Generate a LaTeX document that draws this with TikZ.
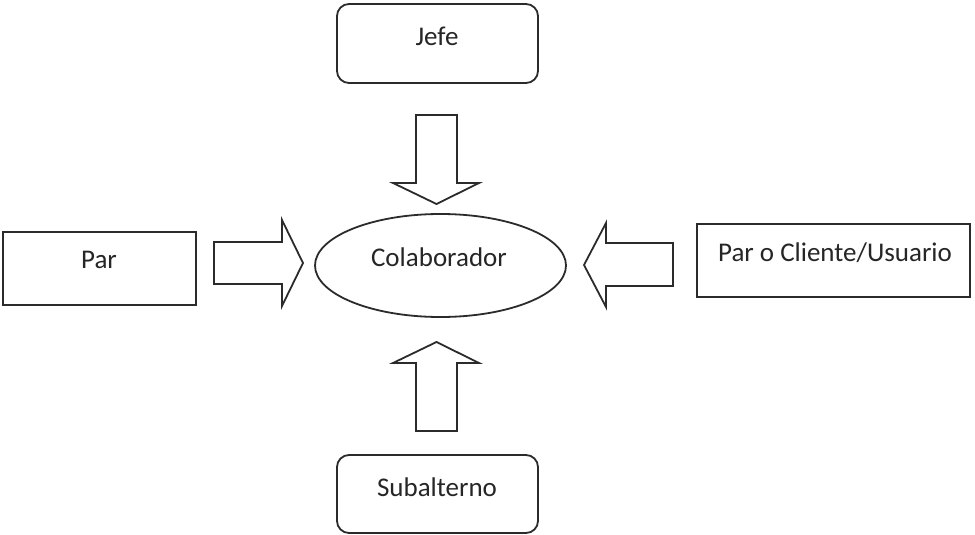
\documentclass[tikz,border=0pt]{standalone}
\usepackage{fontspec}
\setmainfont{Carlito}
\usetikzlibrary{shapes.geometric}
\definecolor{ln}{HTML}{2B2B2B}
\definecolor{tx}{HTML}{262626}
\begin{document}
\begin{tikzpicture}[x=1pt,y=-1pt,
  box/.style={draw=ln,line width=1.8pt,fill=white,inner sep=0pt},
  rbox/.style={box,rounded corners=12pt},
  oval/.style={draw=ln,line width=1.8pt,ellipse,inner sep=0pt,minimum width=251pt,minimum height=103pt},
  txt/.style={text=tx,inner sep=0pt,font=\fontsize{27}{32}\selectfont},
  blockarrow/.style={draw=ln,line width=1.8pt,fill=white,line join=miter}]
\useasboundingbox (0,0) rectangle (975,535);
% boxes
\node[rbox,minimum width=201pt,minimum height=79pt] (jefe) at (437.5,43.5) {};
\node[txt] (jefeT) at (437,36) {Jefe};
\node[rbox,minimum width=201pt,minimum height=78pt] (sub) at (437.5,494) {};
\node[txt] (subT) at (437,487) {Subalterno};
\node[box,minimum width=193pt,minimum height=73pt] (par) at (99.5,268.5) {};
\node[txt] (parT) at (99,260) {Par};
\node[box,minimum width=273pt,minimum height=73pt] (cli) at (833.5,260.5) {};
\node[txt] (cliT) at (835,253) {Par o Cliente/Usuario};
\node[oval] (col) at (440.5,265.5) {};
\node[txt] (colT) at (439,257) {Colaborador};
% block arrows
\draw[blockarrow] (416,115) -- (457,115) -- (457,183) -- (479,183) -- (436.5,204) -- (393,183) -- (416,183) -- cycle;
\draw[blockarrow] (416,431) -- (457,431) -- (457,363) -- (479,363) -- (436.5,342) -- (393,363) -- (416,363) -- cycle;
\draw[blockarrow] (214,242) -- (282,242) -- (282,220) -- (303,263) -- (282,306) -- (282,284) -- (214,284) -- cycle;
\draw[blockarrow] (673,243) -- (606,243) -- (606,223) -- (584,265) -- (606,307) -- (606,286) -- (673,286) -- cycle;
\end{tikzpicture}
\end{document}
